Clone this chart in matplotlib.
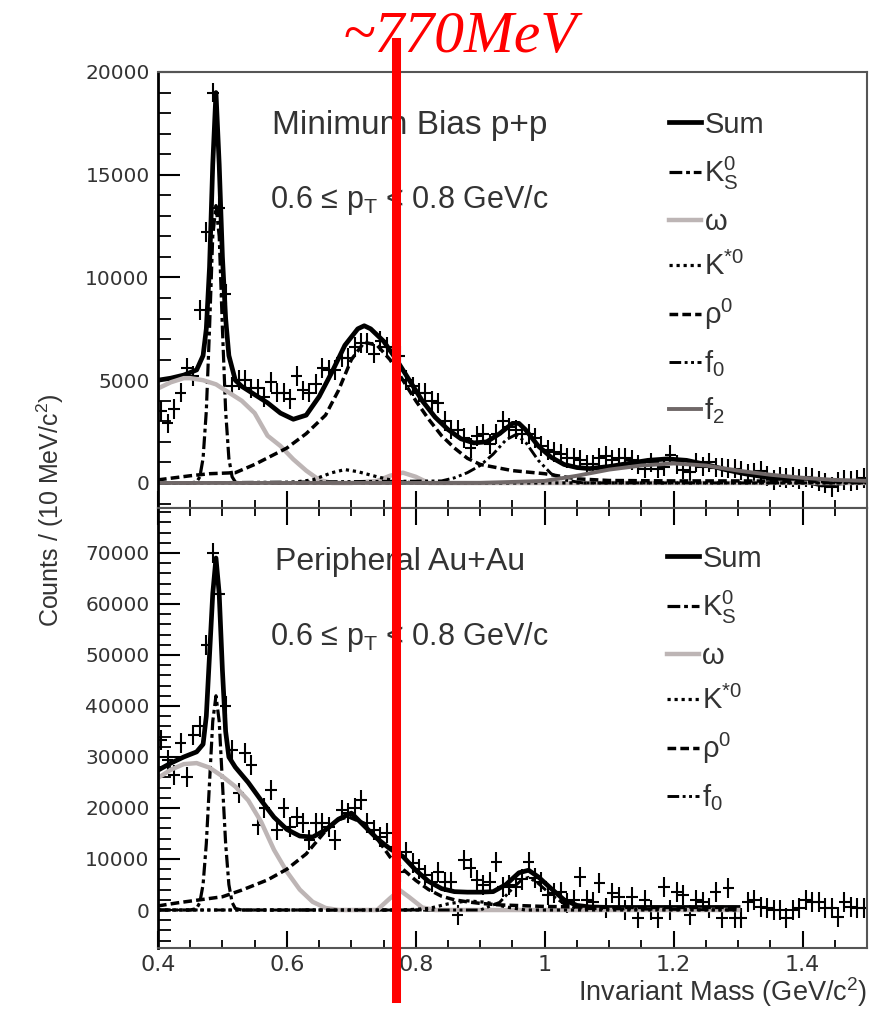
import numpy as np
import matplotlib
matplotlib.use('Agg')
import matplotlib.pyplot as plt
import matplotlib.transforms as mtransforms
from matplotlib.ticker import MultipleLocator, FuncFormatter

plt.rcParams['font.family'] = ['Liberation Sans', 'DejaVu Sans']
plt.rcParams['mathtext.fontset'] = 'custom'
plt.rcParams['mathtext.rm'] = 'Liberation Sans'
plt.rcParams['mathtext.it'] = 'Liberation Sans:italic'
plt.rcParams['mathtext.bf'] = 'Liberation Sans:bold'

# 10 MeV bins, 0.40 - 1.50 GeV/c^2
mass_bins = np.round(np.arange(0.405, 1.5, 0.01), 3)

# ---- Minimum bias p+p : data points ----
pp_counts = [3500, 2900, 3600, 4400, 5600, 5200, 8400, 12200, 19000, 13400,
             9200, 4700, 5000, 5000, 4600, 4600, 4200, 4900, 4400, 4400,
             4100, 5200, 4500, 4400, 4800, 5600, 5500,
             5500, 6100, 6100, 6600, 6800, 6800, 6300, 6900, 6600, 6400,
             6200, 5000, 4700, 4400, 4400, 4000, 3900, 3000, 2600, 2600,
             2200, 1700, 2300, 2400, 1900, 2400, 3000, 2700, 2600, 2400,
             2400, 2200, 1800, 1600, 1500, 1400, 1200, 1200, 1100, 900,
             900, 1200, 1300, 1100, 1200, 1200, 1100, 900, 700, 1000,
             700, 800, 1350, 900, 650, 550, 1000, 800, 1000, 750,
             750, 700, 700, 600, 450, 500, 600, 350, 150, 300,
             250, 300, 200, 300, 250, 100, 0, -200, 50, 150,
             100, 150, 250]
pp_err = 480

# ---- Peripheral Au+Au : data points ----
auau_counts = [33300, 29400, 26500, 32700, 26100, 34300, 36000, 52000, 70000, 62000,
               40000, 31400, 22900, 30800, 28400, 16700, 20000, 23500, 15700, 20000,
               16300, 18200, 17100, 13700, 17100, 17100, 16300, 13700, 19600, 19000,
               20000, 21600, 17100, 15700, 14300,
               15100, 12400, 7400, 11400, 9200, 8000, 6900, 5500, 7500, 5500,
               5500, -1000, 9800, 8200, 5900, 4900, 5500, 9400, 4500, 4900,
               4500, 6000, 9400, 6300, 5500, 2900, 3300, 3500, 1400, 2000,
               6500, 2000, 1600, 5300, 400, 3300, 2600, 0, 2600, -1600,
               2000, 0, -1600, 4500, 0, 3500, 2900, -1000, 2000, 1600,
               400, 3500, -1600, 4300, -1600, -1600, 1600, 2000, 600, 400,
               0, 0, -1600, 0, 400, 2000, 1600, 1600, 400, 400,
               -1400, 1600, 600, 400, 400]
auau_err = 2000

# ---- p+p fit components ----
pp_sum_m = [0.40, 0.42, 0.44, 0.46, 0.47, 0.475, 0.48, 0.485, 0.49, 0.495, 0.50, 0.505,
            0.51, 0.52, 0.53, 0.55, 0.57, 0.59, 0.61, 0.63, 0.65, 0.67, 0.69, 0.71,
            0.72, 0.73, 0.75, 0.77, 0.79, 0.81, 0.83, 0.85, 0.87, 0.89, 0.91, 0.93,
            0.95, 0.96, 0.97, 0.99, 1.01, 1.03, 1.05, 1.07, 1.10, 1.13, 1.16, 1.19,
            1.22, 1.25, 1.28, 1.31, 1.34, 1.37, 1.40, 1.43, 1.46, 1.50]
pp_sum = [5000, 5100, 5250, 5500, 6200, 7500, 10500, 15500, 19000, 15500, 11000, 8000,
          6200, 5000, 4700, 4300, 3900, 3400, 3100, 3300, 4200, 5400, 6700, 7500,
          7650, 7500, 6900, 6000, 5000, 4000, 3200, 2600, 2150, 1950, 2000, 2400,
          2900, 2900, 2600, 1800, 1250, 900, 750, 700, 800, 950, 1100, 1170,
          1100, 900, 650, 450, 300, 200, 100, -100, 0, 100]

pp_k0s_m = [0.40, 0.45, 0.46, 0.465, 0.47, 0.475, 0.48, 0.485, 0.49, 0.495, 0.50,
            0.505, 0.51, 0.515, 0.52, 0.53, 1.50]
pp_k0s = [0, 0, 50, 300, 1200, 3500, 7500, 12000, 13500, 12000, 7500,
          3500, 1200, 300, 50, 0, 0]

pp_omega_m = [0.40, 0.42, 0.44, 0.45, 0.47, 0.49, 0.51, 0.53, 0.55, 0.57, 0.59, 0.61,
              0.63, 0.65, 0.67, 0.70, 0.74, 0.76, 0.78, 0.80, 0.82, 1.50]
pp_omega = [4600, 4900, 5100, 5100, 5000, 4800, 4400, 4000, 3400, 2300, 1800, 1150,
            600, 150, 0, 0, 100, 350, 500, 300, 0, 0]

pp_kstar_m = [0.40, 0.60, 0.64, 0.67, 0.69, 0.71, 0.74, 0.77, 0.80, 1.50]
pp_kstar = [0, 0, 150, 500, 650, 550, 300, 80, 0, 0]

pp_rho_m = [0.40, 0.45, 0.48, 0.52, 0.55, 0.60, 0.63, 0.66, 0.68, 0.70, 0.72, 0.74,
            0.76, 0.78, 0.80, 0.82, 0.84, 0.86, 0.88, 0.90, 0.95, 1.00, 1.05, 1.10,
            1.20, 1.30, 1.40, 1.50]
pp_rho = [150, 350, 450, 500, 900, 1700, 2400, 3300, 4500, 6000, 6850, 6700,
          6000, 5000, 4000, 3100, 2300, 1700, 1200, 900, 600, 450, 200, 120,
          100, 100, 80, 50]

pp_f0_m = [0.40, 0.84, 0.86, 0.88, 0.90, 0.92, 0.94, 0.955, 0.97, 0.99, 1.01, 1.03,
           1.06, 1.50]
pp_f0 = [0, 100, 250, 500, 850, 1400, 2100, 2350, 2000, 1100, 450, 150, 0, 0]

pp_f2_m = [0.40, 0.90, 1.00, 1.05, 1.10, 1.15, 1.20, 1.25, 1.30, 1.35, 1.40, 1.45, 1.50]
pp_f2 = [0, 0, 100, 350, 650, 850, 950, 850, 600, 400, 250, 150, 100]

# ---- Au+Au fit components ----
aa_sum_m = [0.40, 0.42, 0.44, 0.46, 0.47, 0.475, 0.48, 0.485, 0.49, 0.495, 0.50, 0.505,
            0.51, 0.52, 0.54, 0.56, 0.58, 0.60, 0.62, 0.64, 0.66, 0.68, 0.70, 0.72,
            0.74, 0.76, 0.78, 0.80, 0.82, 0.84, 0.86, 0.88, 0.90, 0.92, 0.94, 0.96,
            0.975, 0.99, 1.01, 1.03, 1.05, 1.07, 1.10, 1.20, 1.30]
aa_sum = [27400, 28800, 30000, 31000, 32500, 38000, 50000, 62000, 69000, 62000, 47000, 35000,
          30000, 28000, 25000, 21500, 18200, 15800, 14500, 14300, 15700, 17800, 19000, 16500,
          14000, 12000, 10500, 7800, 5600, 4200, 3600, 3500, 3500, 3600, 5000, 7300,
          7800, 6500, 4200, 2000, 900, 600, 500, 500, 500]

aa_k0s_m = [0.40, 0.45, 0.46, 0.465, 0.47, 0.475, 0.48, 0.485, 0.49, 0.495, 0.50,
            0.505, 0.51, 0.515, 0.52, 0.53, 1.30]
aa_k0s = [0, 0, 300, 1500, 5000, 13000, 25000, 37000, 42000, 37000, 25000,
          13000, 5000, 1500, 300, 0, 0]

aa_omega_m = [0.40, 0.42, 0.44, 0.46, 0.48, 0.50, 0.52, 0.54, 0.56, 0.58, 0.60, 0.62,
              0.64, 0.66, 0.68, 0.74, 0.76, 0.775, 0.79, 0.81, 0.83, 1.30]
aa_omega = [25900, 27500, 28600, 28800, 27900, 26200, 24200, 21500, 17300, 11800, 7500, 4000,
            1600, 400, 0, 0, 2300, 3900, 2500, 500, 0, 0]

aa_kstar_m = [0.40, 0.78, 0.82, 0.85, 0.88, 0.91, 0.94, 0.97, 1.30]
aa_kstar = [0, 0, 300, 1200, 1800, 1500, 600, 0, 0]

aa_rho_m = [0.40, 0.43, 0.465, 0.50, 0.53, 0.57, 0.60, 0.63, 0.66, 0.68, 0.695, 0.72,
            0.74, 0.76, 0.78, 0.80, 0.82, 0.84, 0.86, 0.88, 0.90, 0.93, 1.00, 1.10,
            1.20, 1.30]
aa_rho = [800, 1400, 2000, 2600, 3900, 5900, 8000, 11000, 15500, 17700, 18300, 17000,
          14000, 10400, 8000, 5800, 4000, 2700, 2000, 1600, 1300, 1000, 700, 500,
          500, 500]

aa_f0_m = [0.40, 0.90, 0.93, 0.95, 0.965, 0.975, 0.99, 1.01, 1.03, 1.05, 1.30]
aa_f0 = [0, 0, 1500, 4200, 6000, 6400, 5200, 3000, 1200, 300, 0]

# styles
TXT = '#333333'
st = {
    'Sum': dict(color='black', lw=3.4, ls='-'),
    'k0s': dict(color='black', lw=2.3, ls=(0, (4, 1.2, 1.2, 1.2))),
    'omega': dict(color='#bdb5b5', lw=3.2, ls='-'),
    'kstar': dict(color='black', lw=2.3, ls=(0, (1, 1.2))),
    'rho': dict(color='black', lw=2.5, ls=(0, (2.5, 1.2))),
    'f0': dict(color='black', lw=2.1, ls=(0, (4, 1.2, 1, 1.2, 1, 1.2))),
    'f2': dict(color='#706868', lw=2.8, ls='-'),
}

fig = plt.figure(figsize=(8.81, 10.11), dpi=100)
ax1 = fig.add_axes([0.1793, 0.4975, 0.8048, 0.4313])
ax2 = fig.add_axes([0.1793, 0.0623, 0.8048, 0.4352])

leg_kw = dict(loc='upper left', frameon=False, fontsize=21, handlelength=1.1,
              handletextpad=0.12, labelspacing=0.55, borderpad=0, labelcolor=TXT)

# top panel
ax1.errorbar(mass_bins, pp_counts, yerr=pp_err, xerr=0.009, fmt='none',
             ecolor='black', elinewidth=1.5)
h = []
h += ax1.plot(pp_sum_m, pp_sum, label='Sum', **st['Sum'])
h += ax1.plot(pp_k0s_m, pp_k0s, label=r'K$^0_\mathrm{S}$', **st['k0s'])
h += ax1.plot(pp_omega_m, pp_omega, label='ω', **st['omega'])
h += ax1.plot(pp_kstar_m, pp_kstar, label=r'K$^{*0}$', **st['kstar'])
h += ax1.plot(pp_rho_m, pp_rho, label=r'ρ$^0$', **st['rho'])
h += ax1.plot(pp_f0_m, pp_f0, label=r'f$_0$', **st['f0'])
h += ax1.plot(pp_f2_m, pp_f2, label=r'f$_2$', **st['f2'])
ax1.set_xlim(0.4, 1.5)
ax1.set_ylim(-1220, 20000)
ax1.yaxis.set_major_locator(MultipleLocator(5000))
ax1.yaxis.set_minor_locator(MultipleLocator(1000))
ax1.text(0.161, 0.878, 'Minimum Bias p+p', transform=ax1.transAxes,
         fontsize=24, color=TXT, va='center')
ax1.text(0.158, 0.706, r'0.6 ≤ p$_\mathrm{T}$ < 0.8 GeV/c', transform=ax1.transAxes,
         fontsize=22, color=TXT, va='center')
ax1.legend(handles=h, bbox_to_anchor=(0.7, 0.945), **leg_kw)

# bottom panel
ax2.errorbar(mass_bins, auau_counts, yerr=auau_err, xerr=0.009, fmt='none',
             ecolor='black', elinewidth=1.5)
h = []
h += ax2.plot(aa_sum_m, aa_sum, label='Sum', **st['Sum'])
h += ax2.plot(aa_k0s_m, aa_k0s, label=r'K$^0_\mathrm{S}$', **st['k0s'])
h += ax2.plot(aa_omega_m, aa_omega, label='ω', **st['omega'])
h += ax2.plot(aa_kstar_m, aa_kstar, label=r'K$^{*0}$', **st['kstar'])
h += ax2.plot(aa_rho_m, aa_rho, label=r'ρ$^0$', **st['rho'])
h += ax2.plot(aa_f0_m, aa_f0, label=r'f$_0$', **st['f0'])
ax2.set_xlim(0.4, 1.5)
ax2.set_ylim(-7450, 78800)
ax2.yaxis.set_major_locator(MultipleLocator(10000))
ax2.yaxis.set_minor_locator(MultipleLocator(2000))
ax2.text(0.165, 0.877, 'Peripheral Au+Au', transform=ax2.transAxes,
         fontsize=23, color=TXT, va='center')
ax2.text(0.158, 0.707, r'0.6 ≤ p$_\mathrm{T}$ < 0.8 GeV/c', transform=ax2.transAxes,
         fontsize=22, color=TXT, va='center')
ax2.legend(handles=h, bbox_to_anchor=(0.697, 0.95), **leg_kw)

for ax in (ax1, ax2):
    ax.xaxis.set_major_locator(MultipleLocator(0.2))
    ax.xaxis.set_minor_locator(MultipleLocator(0.05))
    ax.tick_params(axis='y', which='major', direction='in', length=16, width=1.5,
                   labelsize=14.5, labelcolor=TXT, pad=6)
    ax.tick_params(axis='y', which='minor', direction='in', length=9, width=1.3)
    ax.tick_params(axis='x', which='major', direction='in', length=12, width=1.5,
                   labelsize=16, labelcolor=TXT, pad=5)
    ax.tick_params(axis='x', which='minor', direction='in', length=6, width=1.3)
    for lbl in ax.get_yticklabels():
        lbl.set_family('DejaVu Sans')
    for s in ax.spines.values():
        s.set_color('#555555')
        s.set_linewidth(1.5)
    ax.spines['left'].set_color('black')
    ax.spines['left'].set_linewidth(2)

ax1.tick_params(axis='x', which='both', labelbottom=False)
ax2.tick_params(axis='x', which='both', top=True)
ax2.xaxis.set_major_formatter(FuncFormatter(lambda v, p: '%g' % v))
for lbl in ax2.get_xticklabels():
    lbl.set_family('DejaVu Sans')

ax2.set_xlabel(r'Invariant Mass (GeV/c$^2$)', fontsize=19.5, color=TXT,
               ha='right', va='center')
ax2.xaxis.set_label_coords(1.0, -0.1)
fig.text(0.057, 0.495, r'Counts / (10 MeV/c$^2$)', rotation=90, fontsize=18,
         color=TXT, ha='center', va='center')

# red marker at 770 MeV
trans = mtransforms.blended_transform_factory(ax2.transData, fig.transFigure)
fig.add_artist(plt.Line2D([0.77, 0.77], [0.013, 0.958], transform=trans,
                          color='#ff0000', lw=6.5, zorder=10))
fig.text(0.522, 0.962, '~770MeV', color='#ff0000', fontsize=43, style='italic',
         family='Liberation Serif', ha='center', va='center')

fig.savefig('out.png', dpi=100)
